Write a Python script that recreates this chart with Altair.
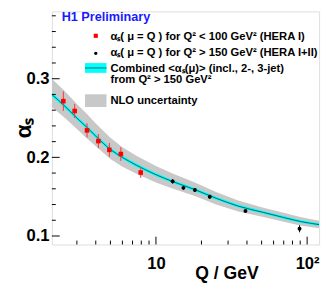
import altair as alt
import pandas as pd

# ---- data ----
red_q = [2.44, 2.90, 3.50, 4.16, 4.92, 5.86, 7.93]
red_a = [0.2715, 0.259, 0.2343, 0.2207, 0.2095, 0.2042, 0.1807]
red_e = [0.0124, 0.009, 0.009, 0.009, 0.0087, 0.0087, 0.0068]

blk_q = [12.9, 15.2, 18.1, 22.7, 39.1, 89.1]
blk_a = [0.1695, 0.1612, 0.1584, 0.150, 0.1318, 0.1092]
blk_e = [0.003, 0.0025, 0.0025, 0.0025, 0.002, 0.0045]

curve_q = [2.05, 2.5, 3, 3.5, 4, 5, 6, 7.43, 10, 13, 18.1, 25, 35, 51.3, 70, 90, 120]
curve_a = [0.280, 0.265, 0.250, 0.238, 0.227, 0.210, 0.200, 0.190, 0.178, 0.169,
           0.159, 0.148, 0.138, 0.130, 0.1235, 0.1185, 0.1145]
cyan_hw = [0.0025, 0.0025, 0.0024, 0.0024, 0.0023, 0.0023, 0.0022, 0.0022, 0.0021,
           0.0020, 0.0020, 0.0019, 0.0019, 0.0018, 0.0018, 0.0017, 0.0017]
nlo_hi = [0.300, 0.284, 0.268, 0.255, 0.243, 0.225, 0.213, 0.202, 0.189, 0.179,
          0.168, 0.156, 0.145, 0.136, 0.1295, 0.124, 0.1195]
nlo_lo = [0.264, 0.250, 0.236, 0.224, 0.214, 0.198, 0.188, 0.179, 0.168, 0.160,
          0.151, 0.140, 0.131, 0.124, 0.118, 0.1135, 0.110]

x_major = [10, 100]
x_minor = [3, 4, 5, 6, 7, 8, 9, 20, 30, 40, 50, 60, 70, 80, 90]
y_major = [0.1, 0.2, 0.3]
y_minor = [0.12, 0.14, 0.16, 0.18, 0.22, 0.24, 0.26, 0.28, 0.32, 0.34, 0.36, 0.38]

legend_title = "H1 Preliminary"
legend_red = "αₛ( μ = Q ) for Q² < 100 GeV² (HERA I)"
legend_blk = "αₛ( μ = Q ) for Q² > 150 GeV² (HERA I+II)"
legend_comb1 = "Combined <αₛ(μ)> (incl., 2-, 3-jet)"
legend_comb2 = "from Q² > 150 GeV²"
legend_nlo = "NLO uncertainty"

# ---- tables ----
W, H = 274, 239
FONT = "Liberation Sans"
LFS = 11.5

curve = pd.DataFrame({"q": curve_q, "a": curve_a, "hw": cyan_hw,
                      "lo": nlo_lo, "hi": nlo_hi})
curve["clo"] = curve["a"] - curve["hw"]
curve["chi"] = curve["a"] + curve["hw"]
red = pd.DataFrame({"q": red_q, "a": red_a, "e": red_e})
red["lo"] = red["a"] - red["e"]
red["hi"] = red["a"] + red["e"]
blk = pd.DataFrame({"q": blk_q, "a": blk_a, "e": blk_e})
blk["lo"] = blk["a"] - blk["e"]
blk["hi"] = blk["a"] + blk["e"]

xs = alt.Scale(type="log", domain=[2.05, 120], nice=False)
ys = alt.Scale(domain=[0.0892, 0.3856], nice=False, zero=False)

xaxis = alt.Axis(values=x_major, labelExpr="datum.value == 10 ? '10' : '10²'",
                 tickSize=0, domain=False, grid=False, labelFont=FONT,
                 labelFontSize=17, labelFontWeight="bold", labelColor="black",
                 labelPadding=12, labelFlush=False, title="Q / GeV", titleFont=FONT,
                 titleFontSize=18, titleFontWeight="bold", titleColor="black",
                 titleX=179, titleY=35, titleBaseline="alphabetic", titleAlign="center")
yaxis = alt.Axis(values=y_major, format=".1f", tickSize=0, domain=False, grid=False,
                 labelFont=FONT, labelFontSize=17, labelFontWeight="bold",
                 labelColor="black", labelPadding=3, title="αₛ", titleFont=FONT,
                 titleFontSize=23, titleFontWeight="bold", titleColor="black",
                 titleAngle=270, titleX=-22, titleY=119, titleAlign="center",
                 titleBaseline="alphabetic")

base = alt.Chart(curve)
band = base.mark_area(color="#c8c8c8", clip=True).encode(
    x=alt.X("q:Q", scale=xs, axis=xaxis),
    y=alt.Y("lo:Q", scale=ys, axis=yaxis),
    y2="hi:Q")
cyan = base.mark_area(color="#00ffff", clip=True).encode(
    x=alt.X("q:Q", scale=xs), y=alt.Y("clo:Q", scale=ys), y2="chi:Q")
line = base.mark_line(color="#006a6a", strokeWidth=1, clip=True, interpolate="monotone").encode(
    x=alt.X("q:Q", scale=xs), y=alt.Y("a:Q", scale=ys))

red_err = alt.Chart(red).mark_rule(color="#ff3030", strokeWidth=1).encode(
    x=alt.X("q:Q", scale=xs), y=alt.Y("lo:Q", scale=ys), y2="hi:Q")
red_pt = alt.Chart(red).mark_square(color="#ff0000", size=22, opacity=1).encode(
    x=alt.X("q:Q", scale=xs), y=alt.Y("a:Q", scale=ys))
blk_err = alt.Chart(blk).mark_rule(color="black", strokeWidth=1).encode(
    x=alt.X("q:Q", scale=xs), y=alt.Y("lo:Q", scale=ys), y2="hi:Q")
blk_pt = alt.Chart(blk).mark_circle(color="black", size=16, opacity=1).encode(
    x=alt.X("q:Q", scale=xs), y=alt.Y("a:Q", scale=ys))

def xticks(vals, length):
    return alt.Chart(pd.DataFrame({"t": vals})).mark_rule(color="black", strokeWidth=1).encode(
        x=alt.X("t:Q", scale=xs), y=alt.value(H), y2=alt.value(H - length))

def yticks(vals, length):
    return alt.Chart(pd.DataFrame({"t": vals})).mark_rule(color="black", strokeWidth=1).encode(
        y=alt.Y("t:Q", scale=ys), x=alt.value(0), x2=alt.value(length))

def label(txt, x, y, size=LFS, color="black", weight="bold"):
    return alt.Chart(pd.DataFrame({"t": [txt]})).mark_text(
        align="left", baseline="alphabetic", font=FONT, fontSize=size,
        fontWeight=weight, color=color).encode(
        text="t:N", x=alt.value(x), y=alt.value(y))

def swatch(x1, x2, y1, y2, color):
    return alt.Chart(pd.DataFrame({"t": [0]})).mark_rect(color=color).encode(
        x=alt.value(x1), x2=alt.value(x2), y=alt.value(y1), y2=alt.value(y2))

leg_red = alt.Chart(pd.DataFrame({"t": [0]})).mark_square(color="#ff0000", size=18, opacity=1).encode(
    x=alt.value(45), y=alt.value(25))
leg_blk = alt.Chart(pd.DataFrame({"t": [0]})).mark_circle(color="black", size=12, opacity=1).encode(
    x=alt.value(45), y=alt.value(43))
leg_cline = alt.Chart(pd.DataFrame({"t": [0]})).mark_rule(color="#006a6a", strokeWidth=1).encode(
    x=alt.value(34), x2=alt.value(56), y=alt.value(58))

chart = alt.layer(
    band, cyan, line, red_err, blk_err, red_pt, blk_pt,
    xticks(x_minor, 4), xticks(x_major, 8), yticks(y_minor, 4), yticks(y_major, 8),
    label(legend_title, 10, 10, size=13, color="#1a1aff"),
    leg_red, label(legend_red, 60, 29),
    leg_blk, label(legend_blk, 60, 46),
    swatch(34, 56, 53, 63, "#00ffff"), leg_cline,
    label(legend_comb1, 60, 62.5), label(legend_comb2, 60, 73.5),
    swatch(34, 56, 85, 98, "#c8c8c8"), label(legend_nlo, 60, 95),
).properties(
    width=W, height=H,
    autosize=alt.AutoSizeParams(type="none"),
    padding={"left": 45, "top": 0, "right": 4, "bottom": 36},
).configure_view(stroke="#222222", strokeWidth=1).configure(background="white")

chart.save("out.html", embed_options={"renderer": "svg", "actions": False})
